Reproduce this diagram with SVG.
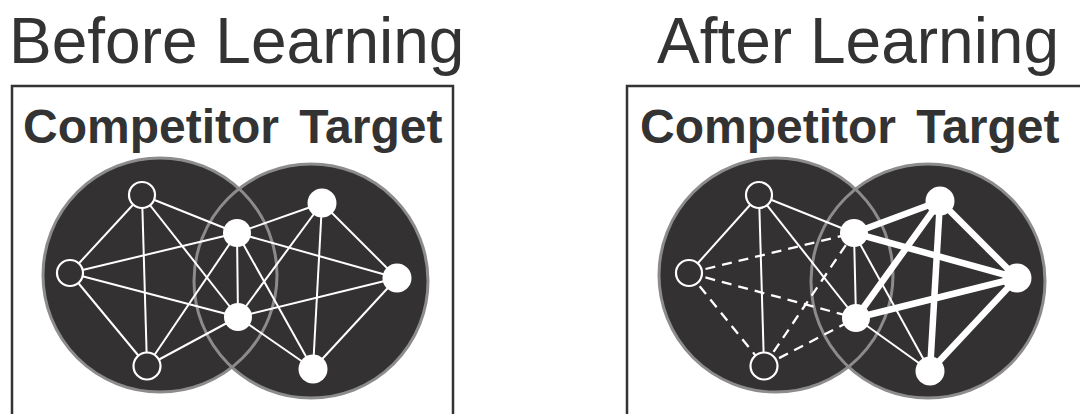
<svg xmlns="http://www.w3.org/2000/svg" width="1080" height="414" viewBox="0 0 1080 414">
  <style>
    .title { font-family: "Liberation Sans", Arial, sans-serif; font-size: 64px; fill: #333333; }
    .label { font-family: "Liberation Sans", Arial, sans-serif; font-size: 48px; font-weight: bold; fill: #333333; word-spacing: 7px; }
    .frame { fill: none; stroke: #333333; stroke-width: 2.5; }
    .disc { fill: #333132; }
    .rim { fill: none; stroke: #8c8c8c; stroke-width: 3; }
    .edge { stroke: #ffffff; stroke-width: 2; fill: none; }
    .dash { stroke: #ffffff; stroke-width: 2.3; stroke-dasharray: 10 7; fill: none; }
    .strong { stroke: #ffffff; stroke-width: 6.5; fill: none; stroke-linecap: round; }
    .hollow { fill: #333132; stroke: #ffffff; stroke-width: 2.2; }
    .solid { fill: #ffffff; }
  </style>

  <!-- Panel headings -->
  <text class="title" x="9" y="63">Before Learning</text>
  <text class="title" x="657" y="63">After Learning</text>

  <!-- Panel frames (open at the bottom / right edge) -->
  <rect class="frame" x="12" y="86" width="441" height="340"/>
  <rect class="frame" x="627" y="86" width="470" height="340"/>

  <text class="label" x="23" y="143">Competitor Target</text>
  <text class="label" x="640" y="143">Competitor Target</text>

  <!-- Before learning -->
  <g id="before">
    <g id="before-sets">
      <circle class="disc" cx="160" cy="275" r="117"/>
      <circle class="disc" cx="311" cy="281" r="117"/>
      <circle class="rim" cx="160" cy="275" r="117"/>
      <circle class="rim" cx="311" cy="281" r="117"/>
    </g>
    <g id="before-connectors">
      <line class="edge" x1="142" y1="195" x2="70" y2="273"/>
      <line class="edge" x1="142" y1="195" x2="147" y2="366"/>
      <line class="edge" x1="142" y1="195" x2="237" y2="233"/>
      <line class="edge" x1="142" y1="195" x2="238" y2="317"/>
      <line class="edge" x1="70" y1="273" x2="147" y2="366"/>
      <line class="edge" x1="70" y1="273" x2="237" y2="233"/>
      <line class="edge" x1="70" y1="273" x2="238" y2="317"/>
      <line class="edge" x1="147" y1="366" x2="237" y2="233"/>
      <line class="edge" x1="147" y1="366" x2="238" y2="317"/>
      <line class="edge" x1="237" y1="233" x2="238" y2="317"/>
      <line class="edge" x1="237" y1="233" x2="322" y2="203"/>
      <line class="edge" x1="237" y1="233" x2="397" y2="278"/>
      <line class="edge" x1="237" y1="233" x2="313" y2="369"/>
      <line class="edge" x1="238" y1="317" x2="322" y2="203"/>
      <line class="edge" x1="238" y1="317" x2="397" y2="278"/>
      <line class="edge" x1="238" y1="317" x2="313" y2="369"/>
      <line class="edge" x1="322" y1="203" x2="397" y2="278"/>
      <line class="edge" x1="322" y1="203" x2="313" y2="369"/>
      <line class="edge" x1="397" y1="278" x2="313" y2="369"/>
    </g>
    <g id="before-c1"><circle class="hollow" cx="142" cy="195" r="13"/></g>
    <g id="before-c2"><circle class="hollow" cx="70" cy="273" r="13"/></g>
    <g id="before-c3"><circle class="hollow" cx="147" cy="366" r="13.5"/></g>
    <g id="before-s1"><circle class="solid" cx="237" cy="233" r="14"/></g>
    <g id="before-s2"><circle class="solid" cx="238" cy="317" r="14"/></g>
    <g id="before-t1"><circle class="solid" cx="322" cy="203" r="14.5"/></g>
    <g id="before-t2"><circle class="solid" cx="397" cy="278" r="14.5"/></g>
    <g id="before-t3"><circle class="solid" cx="313" cy="369" r="14.5"/></g>
  </g>

  <!-- After learning -->
  <g id="after">
    <g id="after-sets">
      <circle class="disc" cx="776" cy="275" r="117"/>
      <circle class="disc" cx="928" cy="281" r="117"/>
      <circle class="rim" cx="776" cy="275" r="117"/>
      <circle class="rim" cx="928" cy="281" r="117"/>
    </g>
    <g id="after-connectors">
      <!-- competitor links kept -->
      <line class="edge" x1="759" y1="195" x2="689" y2="273"/>
      <line class="edge" x1="759" y1="195" x2="764" y2="366"/>
      <line class="edge" x1="759" y1="195" x2="854" y2="233"/>
      <line class="edge" x1="759" y1="195" x2="856" y2="318"/>
      <line class="edge" x1="854" y1="233" x2="856" y2="318"/>
      <line class="edge" x1="854" y1="233" x2="930" y2="371"/>
      <line class="edge" x1="856" y1="318" x2="930" y2="371"/>
      <!-- weakened links -->
      <line class="dash" x1="689" y1="273" x2="764" y2="366"/>
      <line class="dash" x1="689" y1="273" x2="854" y2="233"/>
      <line class="dash" x1="689" y1="273" x2="856" y2="318"/>
      <line class="dash" x1="764" y1="366" x2="854" y2="233"/>
      <line class="dash" x1="764" y1="366" x2="856" y2="318"/>
      <!-- strengthened target links -->
      <line class="strong" x1="854" y1="233" x2="940" y2="201"/>
      <line class="strong" x1="854" y1="233" x2="1017" y2="278"/>
      <line class="strong" x1="856" y1="318" x2="940" y2="201"/>
      <line class="strong" x1="856" y1="318" x2="1017" y2="278"/>
      <line class="strong" x1="940" y1="201" x2="1017" y2="278"/>
      <line class="strong" x1="940" y1="201" x2="930" y2="371"/>
      <line class="strong" x1="1017" y1="278" x2="930" y2="371"/>
    </g>
    <g id="after-c1"><circle class="hollow" cx="759" cy="195" r="13"/></g>
    <g id="after-c2"><circle class="hollow" cx="689" cy="273" r="13"/></g>
    <g id="after-c3"><circle class="hollow" cx="764" cy="366" r="13.5"/></g>
    <g id="after-s1"><circle class="solid" cx="854" cy="233" r="14"/></g>
    <g id="after-s2"><circle class="solid" cx="856" cy="318" r="14"/></g>
    <g id="after-t1"><circle class="solid" cx="940" cy="201" r="14.5"/></g>
    <g id="after-t2"><circle class="solid" cx="1017" cy="278" r="14.5"/></g>
    <g id="after-t3"><circle class="solid" cx="930" cy="371" r="14.5"/></g>
  </g>
</svg>
